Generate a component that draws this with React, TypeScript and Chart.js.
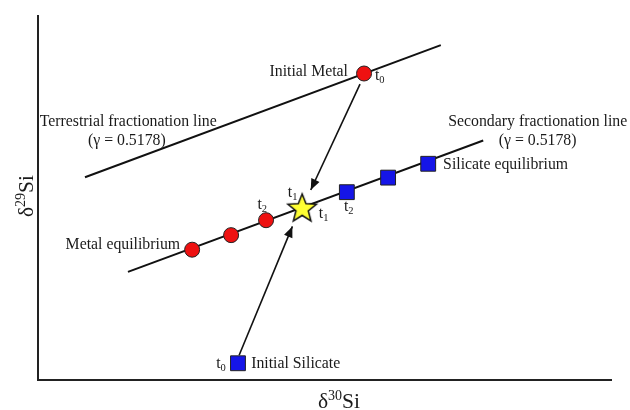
import React, { useEffect, useRef } from "react";
import { Chart, registerables } from "chart.js";

Chart.register(...registerables);

// Data in arbitrary δ units (x: δ30Si, y: δ29Si)
const terrestrialLine = [
  { x: 0.82, y: 5.57 },
  { x: 7.03, y: 9.2 },
];
const secondaryLine = [
  { x: 1.57, y: 2.97 },
  { x: 7.77, y: 6.58 },
];
const initialMetal = [{ x: 5.69, y: 8.42 }];
const metalEquilibrium = [
  { x: 2.69, y: 3.58 },
  { x: 3.37, y: 3.98 },
  { x: 3.98, y: 4.39 },
];
const equilibriumPoint = [{ x: 4.61, y: 4.73 }];
const silicateEquilibrium = [
  { x: 5.39, y: 5.16 },
  { x: 6.11, y: 5.56 },
  { x: 6.81, y: 5.94 },
];
const initialSilicate = [{ x: 3.49, y: 0.46 }];
const metalArrow = [
  { x: 5.62, y: 8.13 },
  { x: 4.76, y: 5.22 },
];
const silicateArrow = [
  { x: 3.51, y: 0.68 },
  { x: 4.44, y: 4.22 },
];

const textLabels = [
  { text: "Initial Metal", x: 5.41, y: 8.34, align: "right" },
  { text: "Terrestrial fractionation line", x: 0.03, y: 6.98, align: "left" },
  { text: "(γ = 0.5178)", x: 1.55, y: 6.46, align: "center" },
  { text: "Secondary fractionation line", x: 7.16, y: 6.98, align: "left" },
  { text: "(γ = 0.5178)", x: 8.72, y: 6.46, align: "center" },
  { text: "Silicate equilibrium", x: 7.07, y: 5.8, align: "left" },
  { text: "Metal equilibrium", x: 2.48, y: 3.6, align: "right" },
  { text: "Initial Silicate", x: 3.72, y: 0.33, align: "left" },
];
const timeLabels = [
  { sub: "0", x: 5.88, y: 8.23 },
  { sub: "0", x: 3.11, y: 0.34 },
  { sub: "1", x: 4.36, y: 5.04 },
  { sub: "1", x: 4.9, y: 4.44 },
  { sub: "2", x: 3.83, y: 4.71 },
  { sub: "2", x: 5.34, y: 4.63 },
];

const FONT = '"Liberation Serif", "Times New Roman", serif';
const TEXT_COLOR = "#1a1a1a";

function makeStar(): HTMLCanvasElement {
  const c = document.createElement("canvas");
  const s = 34;
  c.width = s;
  c.height = s;
  const ctx = c.getContext("2d")!;
  const cx = s / 2;
  const cy = s / 2 + 1;
  const outer = 15;
  const inner = 6.5;
  ctx.beginPath();
  for (let i = 0; i < 10; i++) {
    const r = i % 2 === 0 ? outer : inner;
    const a = -Math.PI / 2 + (i * Math.PI) / 5;
    const px = cx + r * Math.cos(a);
    const py = cy + r * Math.sin(a);
    if (i === 0) ctx.moveTo(px, py);
    else ctx.lineTo(px, py);
  }
  ctx.closePath();
  ctx.fillStyle = "#ffff33";
  ctx.fill();
  ctx.lineWidth = 1.5;
  ctx.strokeStyle = "#111";
  ctx.lineJoin = "miter";
  ctx.stroke();
  return c;
}

const arrowPlugin = {
  id: "arrowHeads",
  afterDatasetsDraw(chart: any) {
    const ctx = chart.ctx;
    chart.data.datasets.forEach((ds: any, i: number) => {
      if (!ds.isArrow) return;
      const pts = chart.getDatasetMeta(i).data;
      const a = pts[0];
      const b = pts[pts.length - 1];
      const ang = Math.atan2(b.y - a.y, b.x - a.x);
      const len = 11;
      const half = 4.5;
      ctx.save();
      ctx.fillStyle = "#111";
      ctx.beginPath();
      ctx.moveTo(b.x, b.y);
      ctx.lineTo(
        b.x - len * Math.cos(ang) + half * Math.sin(ang),
        b.y - len * Math.sin(ang) - half * Math.cos(ang)
      );
      ctx.lineTo(
        b.x - len * Math.cos(ang) - half * Math.sin(ang),
        b.y - len * Math.sin(ang) + half * Math.cos(ang)
      );
      ctx.closePath();
      ctx.fill();
      ctx.restore();
    });
  },
};

const textPlugin = {
  id: "textLabels",
  afterDatasetsDraw(chart: any) {
    const ctx = chart.ctx;
    const xs = chart.scales.x;
    const ys = chart.scales.y;
    ctx.save();
    ctx.fillStyle = TEXT_COLOR;
    ctx.textBaseline = "alphabetic";
    ctx.font = `15.8px ${FONT}`;
    textLabels.forEach((l) => {
      ctx.textAlign = l.align;
      ctx.fillText(l.text, xs.getPixelForValue(l.x), ys.getPixelForValue(l.y));
    });
    ctx.textAlign = "left";
    timeLabels.forEach((l) => {
      const px = xs.getPixelForValue(l.x);
      const py = ys.getPixelForValue(l.y);
      ctx.font = `15.8px ${FONT}`;
      ctx.fillText("t", px, py);
      const w = ctx.measureText("t").width;
      ctx.font = `10.5px ${FONT}`;
      ctx.fillText(l.sub, px + w, py + 3);
    });

    // axis titles with superscripts
    const ca = chart.chartArea;
    const drawTitle = (mass: string) => {
      ctx.font = `21.5px ${FONT}`;
      const w1 = ctx.measureText("δ").width;
      const w3 = ctx.measureText("Si").width;
      ctx.font = `14px ${FONT}`;
      const w2 = ctx.measureText(mass).width;
      const total = w1 + w2 + w3;
      let x0 = -total / 2;
      ctx.font = `21.5px ${FONT}`;
      ctx.fillText("δ", x0, 0);
      x0 += w1;
      ctx.font = `14px ${FONT}`;
      ctx.fillText(mass, x0, -8);
      x0 += w2;
      ctx.font = `21.5px ${FONT}`;
      ctx.fillText("Si", x0, 0);
    };
    ctx.save();
    ctx.translate(ca.left + 301, ca.bottom + 28);
    drawTitle("30");
    ctx.restore();
    ctx.save();
    ctx.translate(33, ca.top + 180);
    ctx.rotate(-Math.PI / 2);
    drawTitle("29");
    ctx.restore();
    ctx.restore();
  },
};

export default function App() {
  const ref = useRef<HTMLCanvasElement>(null);

  useEffect(() => {
    if (!ref.current) return;
    const star = makeStar();
    const lineDs = (data: any[], extra: any = {}) => ({
      data,
      showLine: true,
      borderColor: "#111",
      borderWidth: 2,
      pointRadius: 0,
      pointHoverRadius: 0,
      fill: false,
      order: 2,
      ...extra,
    });
    const chart = new Chart(ref.current, {
      type: "scatter",
      data: {
        datasets: [
          {
            label: "Equilibrium",
            data: equilibriumPoint,
            pointStyle: star,
            pointRadius: 15,
            order: 0,
          },
          {
            label: "Initial Metal",
            data: initialMetal,
            pointStyle: "circle",
            pointRadius: 7.5,
            backgroundColor: "#ee1111",
            borderColor: "#222",
            borderWidth: 1,
            order: 0,
          },
          {
            label: "Metal equilibrium",
            data: metalEquilibrium,
            pointStyle: "circle",
            pointRadius: 7.5,
            backgroundColor: "#ee1111",
            borderColor: "#222",
            borderWidth: 1,
            order: 0,
          },
          {
            label: "Silicate equilibrium",
            data: silicateEquilibrium,
            pointStyle: "rect",
            pointRadius: 10.5,
            backgroundColor: "#1515e8",
            borderColor: "#222",
            borderWidth: 1,
            order: 0,
          },
          {
            label: "Initial Silicate",
            data: initialSilicate,
            pointStyle: "rect",
            pointRadius: 10.5,
            backgroundColor: "#1515e8",
            borderColor: "#222",
            borderWidth: 1,
            order: 0,
          },
          lineDs(terrestrialLine, { label: "Terrestrial" }),
          lineDs(secondaryLine, { label: "Secondary" }),
          lineDs(metalArrow, { label: "arrow1", borderWidth: 1.6, isArrow: true, order: 1 }),
          lineDs(silicateArrow, { label: "arrow2", borderWidth: 1.6, isArrow: true, order: 1 }),
        ] as any,
      },
      options: {
        animation: false,
        responsive: true,
        maintainAspectRatio: false,
        layout: { padding: { left: 38, top: 13, right: 19, bottom: 30 } },
        plugins: {
          legend: { display: false },
          tooltip: { enabled: false },
        },
        events: [],
        scales: {
          x: {
            type: "linear",
            min: 0,
            max: 10,
            grid: { display: false },
            ticks: { display: false },
            border: { display: true, color: "#222", width: 2 },
            afterFit: (s: any) => {
              s.height = 0;
            },
          },
          y: {
            type: "linear",
            min: 0,
            max: 10,
            grid: { display: false },
            ticks: { display: false },
            border: { display: true, color: "#222", width: 2 },
            afterFit: (s: any) => {
              s.width = 0;
            },
          },
        },
      } as any,
      plugins: [arrowPlugin, textPlugin],
    });
    return () => chart.destroy();
  }, []);

  return (
    <div
      style={{
        position: "fixed",
        left: 0,
        top: 0,
        width: 630,
        height: 410,
        background: "#fff",
      }}
    >
      <canvas ref={ref} />
    </div>
  );
}
